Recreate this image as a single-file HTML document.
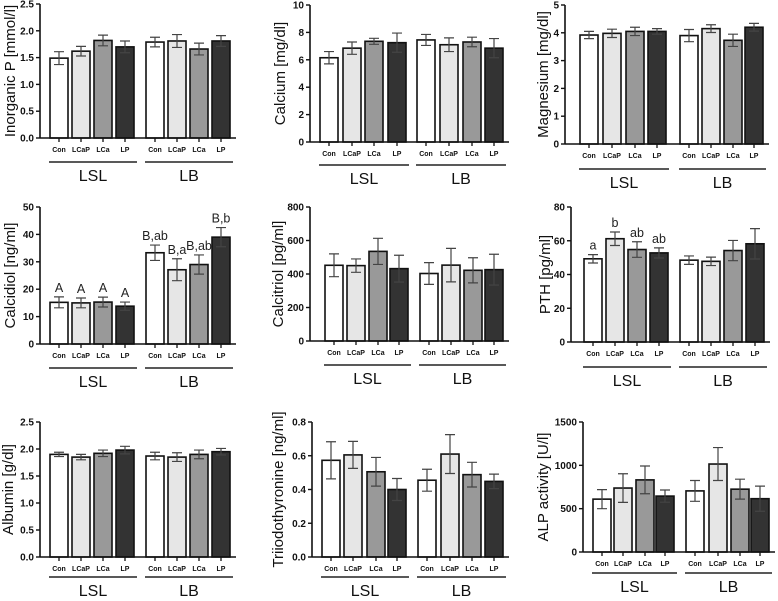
<!DOCTYPE html>
<html><head><meta charset="utf-8">
<style>
html,body{margin:0;padding:0;background:#fff;}
svg{display:block;font-family:"Liberation Sans",Arial,sans-serif;}
</style></head>
<body>
<svg id="fig" width="778" height="601" viewBox="0 0 778 601"></svg>
<script>
// ---- data ----
const categories = ["Con","LCaP","LCa","LP"];
const groups = ["LSL","LB"];
const phosLSL=[1.49,1.62,1.82,1.70], phosLSLe=[0.12,0.09,0.10,0.11];
const phosLB=[1.79,1.81,1.66,1.81], phosLBe=[0.09,0.12,0.11,0.10];
const caLSL=[6.15,6.85,7.35,7.25], caLSLe=[0.45,0.45,0.22,0.7];
const caLB=[7.45,7.1,7.3,6.85], caLBe=[0.4,0.5,0.35,0.7];
const mgLSL=[3.92,3.98,4.05,4.05], mgLSLe=[0.13,0.15,0.15,0.1];
const mgLB=[3.9,4.15,3.73,4.2], mgLBe=[0.22,0.14,0.22,0.14];
const cdLSL=[15.2,15,15.3,13.8], cdLSLe=[2,1.8,1.8,1.5];
const cdLB=[33.3,27.1,29,39], cdLBe=[2.8,4,3.5,3.5];
const cdLetters=["A","A","A","A","B,ab","B,a","B,ab","B,b"];
const ctLSL=[452,450,535,432], ctLSLe=[68,40,78,80];
const ctLB=[403,453,422,426], ctLBe=[65,100,75,92];
const pthLSL=[49.3,61.2,54.8,52.8], pthLSLe=[2.5,4,4.6,3];
const pthLB=[48.5,47.8,54.2,58.2], pthLBe=[2.5,2.5,6,9];
const pthLetters=["a","b","ab","ab","","","",""];
const albLSL=[1.9,1.85,1.92,1.98], albLSLe=[0.04,0.05,0.06,0.07];
const albLB=[1.87,1.85,1.9,1.95], albLBe=[0.07,0.08,0.08,0.06];
const t3LSL=[0.573,0.605,0.505,0.40], t3LSLe=[0.11,0.08,0.085,0.065];
const t3LB=[0.455,0.61,0.488,0.448], t3LBe=[0.065,0.115,0.073,0.043];
const alpLSL=[610,738,832,645], alpLSLe=[110,165,160,70];
const alpLB=[705,1015,725,615], alpLBe=[120,190,115,145];
const ticks1=["0.0","0.5","1.0","1.5","2.0","2.5"];
const ticks2=["0","2","4","6","8","10"];
const ticks3=["0","1","2","3","4","5"];
const ticks4=["0","10","20","30","40","50"];
const ticks5=["0","200","400","600","800"];
const ticks6=["0","20","40","60","80"];
const ticks8=["0.0","0.2","0.4","0.6","0.8"];
const ticks9=["0","500","1000","1500"];

const fills=["#ffffff","#e6e6e6","#999999","#333333"];
const NS="http://www.w3.org/2000/svg";
const svg=document.getElementById('fig');
function mk(tag,attrs,parent){const e=document.createElementNS(NS,tag);for(const k in attrs)e.setAttribute(k,attrs[k]);(parent||svg).appendChild(e);return e;}

function panel(p){
  const g=mk('g',{});
  
  
  const vmax=parseFloat(p.ticks[p.ticks.length-1]);
  const y=v=>p.y0-(v/vmax)*(p.y0-p.yTop);
  const vals=p.a.concat(p.b), errs=p.ae.concat(p.be);
  vals.forEach((v,i)=>{
    const x=p.xs[i];
    const r=mk('rect',{x:x,y:y(v),width:18,height:p.y0-y(v),fill:fills[i%4],stroke:'#111','stroke-width':1.6},g);
    
    
    const cx=x+9, e=errs[i];
    const eb=mk('path',{d:`M${cx},${y(v+e)}V${y(v-e)}M${cx-5},${y(v+e)}H${cx+5}M${cx-5},${y(v-e)}H${cx+5}`,stroke:'#444','stroke-width':1.2,fill:'none'},g);
    
    
    if(p.letters&&p.letters[i]){
      const t=mk('text',{x:cx,y:y(v+e)-5,'text-anchor':'middle','font-size':12.5,fill:'#222'},g);
      t.textContent=p.letters[i];
      
      
    }
    mk('line',{x1:cx,x2:cx,y1:p.y0,y2:p.y0+4,stroke:'#111','stroke-width':1.3},g);
    const lb=mk('text',{x:cx,y:p.y0+14,'text-anchor':'middle','font-size':7,'font-weight':'bold',fill:'#111'},g);
    lb.textContent=categories[i%4];
    
    
  });
  const xEnd=p.xs[7]+24;
  const ya=mk('line',{x1:p.ax,x2:p.ax,y1:p.yTop,y2:p.y0,stroke:'#111','stroke-width':1.6},g);
  
  
  const xa=mk('line',{x1:p.ax,x2:xEnd,y1:p.y0,y2:p.y0,stroke:'#111','stroke-width':1.6},g);
  
  
  p.ticks.forEach(t=>{
    const yy=y(parseFloat(t));
    mk('line',{x1:p.ax-4,x2:p.ax,y1:yy,y2:yy,stroke:'#111','stroke-width':1.4},g);
    const tl=mk('text',{x:p.ax-6,y:yy+3.5,'text-anchor':'end','font-size':10,'font-weight':'bold',fill:'#111'},g);
    tl.textContent=t;
    
    
  });
  const cy=(p.yTop+p.y0)/2;
  const tt=mk('text',{x:p.tx,y:cy,'text-anchor':'middle','font-size':15,fill:'#111',transform:`rotate(-90 ${p.tx} ${cy})`,dy:5},g);
  tt.textContent=p.title;
  
  
  [0,4].forEach((s,k)=>{
    const x1=p.xs[s]-1, x2=p.xs[s+3]+21;
    const gl=mk('line',{x1:x1,x2:x2,y1:p.gy,y2:p.gy,stroke:'#222','stroke-width':1.4},g);
    
    
    const gt=mk('text',{x:(x1+x2)/2,y:p.gy+19,'text-anchor':'middle','font-size':16,fill:'#111'},g);
    gt.textContent=groups[k];
    
    
  });
}
const xsL=[50,72,94,116,146,168,190,212];
panel({name:'inorganic-p',title:'Inorganic P [mmol/l]',ax:40,yTop:4,y0:138,xs:xsL,gy:162,tx:10,ticks:ticks1,a:phosLSL,ae:phosLSLe,b:phosLB,be:phosLBe});
panel({name:'calcium',title:'Calcium [mg/dl]',ax:310,yTop:5,y0:142,xs:[320,343,365,388,417,440,463,485],gy:165,tx:280,ticks:ticks2,a:caLSL,ae:caLSLe,b:caLB,be:caLBe});
panel({name:'magnesium',title:'Magnesium [mg/dl]',ax:565,yTop:5,y0:144,xs:[580,603,626,648,680,702,724,745],gy:169,tx:543,ticks:ticks3,a:mgLSL,ae:mgLSLe,b:mgLB,be:mgLBe});
panel({name:'calcidiol',title:'Calcidiol [ng/ml]',ax:40,yTop:207,y0:344,xs:xsL,gy:368,tx:10,ticks:ticks4,a:cdLSL,ae:cdLSLe,b:cdLB,be:cdLBe,letters:cdLetters});
panel({name:'calcitriol',title:'Calcitriol [pg/ml]',ax:310,yTop:207,y0:341,xs:[325,347,369,390,420,442,464,485],gy:365,tx:278,ticks:ticks5,a:ctLSL,ae:ctLSLe,b:ctLB,be:ctLBe});
panel({name:'pth',title:'PTH [pg/ml]',ax:571,yTop:207,y0:342,xs:[584,606,628,650,680,702,724,746],gy:367,tx:545,ticks:ticks6,a:pthLSL,ae:pthLSLe,b:pthLB,be:pthLBe,letters:pthLetters});
panel({name:'albumin',title:'Albumin [g/dl]',ax:40,yTop:422,y0:557,xs:xsL,gy:577,tx:8,ticks:ticks1,a:albLSL,ae:albLSLe,b:albLB,be:albLBe});
panel({name:'triiodothyronine',title:'Triiodothyronine [ng/ml]',ax:312,yTop:422,y0:557,xs:[322,344,367,388,418,441,463,485],gy:577,tx:278,ticks:ticks8,a:t3LSL,ae:t3LSLe,b:t3LB,be:t3LBe});
panel({name:'alp-activity',title:'ALP activity [U/l]',ax:583,yTop:422,y0:552,xs:[593,614,636,656,686,709,731,751],gy:573,tx:543,ticks:ticks9,a:alpLSL,ae:alpLSLe,b:alpLB,be:alpLBe});
</script>
</body></html>
